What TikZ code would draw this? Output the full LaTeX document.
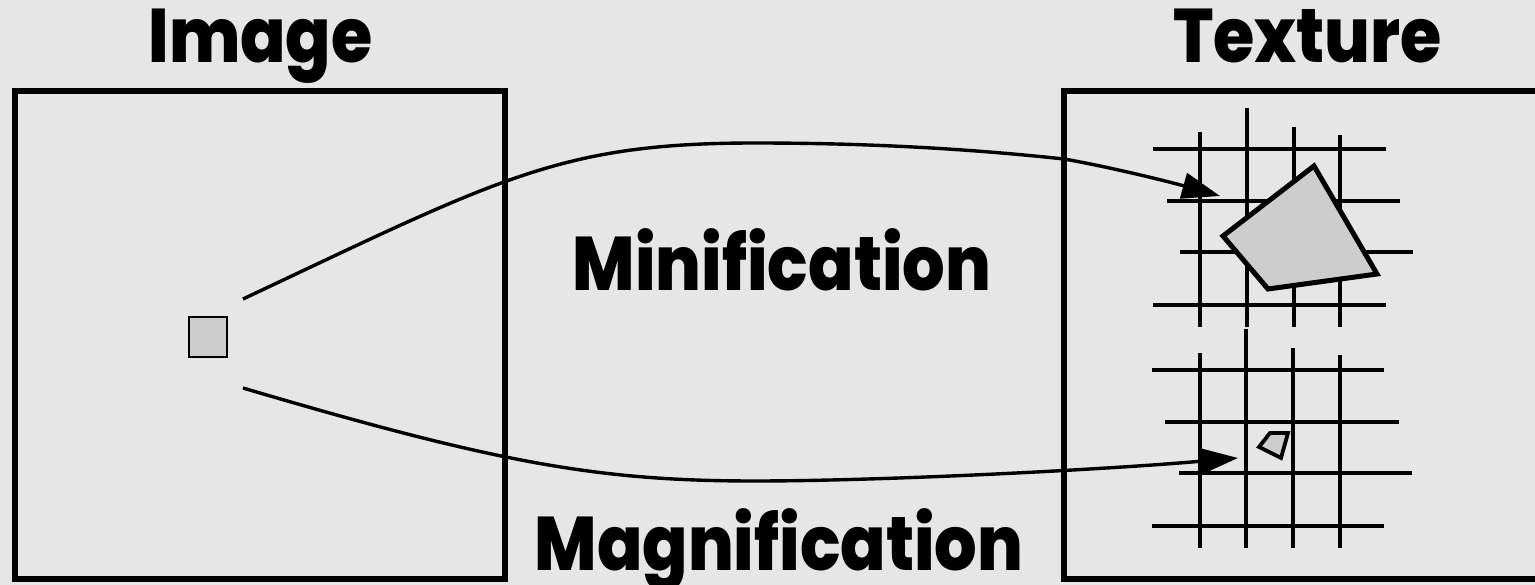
\documentclass[tikz,border=0pt]{standalone}
\usepackage{fontspec}
\setmainfont{Poppins}[BoldFont={Poppins ExtraBold}]
\usetikzlibrary{arrows.meta}
\definecolor{bg}{HTML}{E6E6E6}
\definecolor{shade}{HTML}{CDCDCD}
\newcommand{\ttl}[1]{\scalebox{0.88}[1]{#1}}
\begin{document}
\begin{tikzpicture}[x=1pt,y=-1pt,
  frame/.style={draw=black, line width=5.5pt, inner sep=0pt, outer sep=0pt},
  title/.style={font=\fontsize{76}{76}\selectfont\bfseries, anchor=base, inner sep=0pt},
  gridline/.style={line width=3.2pt},
  conn/.style={line width=3.4pt, -{Triangle[length=38pt,width=26pt]}},
  patch/.style={draw=black, fill=shade, line width=5pt, line join=miter}]
\clip (0,0) rectangle (1535,585);
\fill[bg] (0,0) rectangle (1535,585);
% boxes
\node[frame, minimum width=490pt, minimum height=488pt] (imgbox) at (260,335) {};
\node[frame, minimum width=496pt, minimum height=488pt] (texbox) at (1312,335) {};
% small square pixel
\node[draw=black, fill=shade, line width=2.6pt, minimum width=38pt, minimum height=40pt, inner sep=0pt] (pix) at (208,337) {};
% titles
\node[title] (timg) at (260.5,63) {\ttl{Image}};
\node[title] (ttex) at (1307.5,63) {\ttl{Texture}};
\node[title] (tmin) at (782,291) {\ttl{Minification}};
\node[title] (tmag) at (779,570) {\ttl{Magnification}};
% upper grid
\foreach \x/\t in {1200/132,1247/108,1294/127,1340/135}
  \draw[gridline] (\x,\t) -- (\x,327);
\draw[gridline] (1153,149) -- (1386,149);
\draw[gridline] (1167,201) -- (1400,201);
\draw[gridline] (1180,252) -- (1413,252);
\draw[gridline] (1153,305) -- (1386,305);
% lower grid
\foreach \x/\t in {1200/353,1246/329,1293/348,1340/355}
  \draw[gridline] (\x,\t) -- (\x,548);
\draw[gridline] (1152,370) -- (1384,370);
\draw[gridline] (1165,422) -- (1399,422);
\draw[gridline] (1179,473) -- (1412,473);
\draw[gridline] (1152,526) -- (1384,526);
% footprints
\draw[patch] (1314,166) -- (1377,274) -- (1268,289) -- (1223,236) -- cycle;
\draw[patch, line width=3.8pt] (1270,433) -- (1288,433) -- (1281,458) -- (1259,447) -- cycle;
% connectors
\coordinate (minstart) at (243,299);
\coordinate (mintip) at (1220,196);
\coordinate (magstart) at (243,388);
\coordinate (magtip) at (1238,458);
\draw[conn] (minstart) .. controls (500,178) and (560,143) .. (755,143)
  .. controls (880,143) and (980,150) .. (1064,159)
  .. controls (1110,167) and (1170,182) .. (mintip);
\draw[conn] (magstart) .. controls (500,464) and (600,481) .. (755,481)
  .. controls (880,481) and (1100,470) .. (magtip);
\end{tikzpicture}
\end{document}
